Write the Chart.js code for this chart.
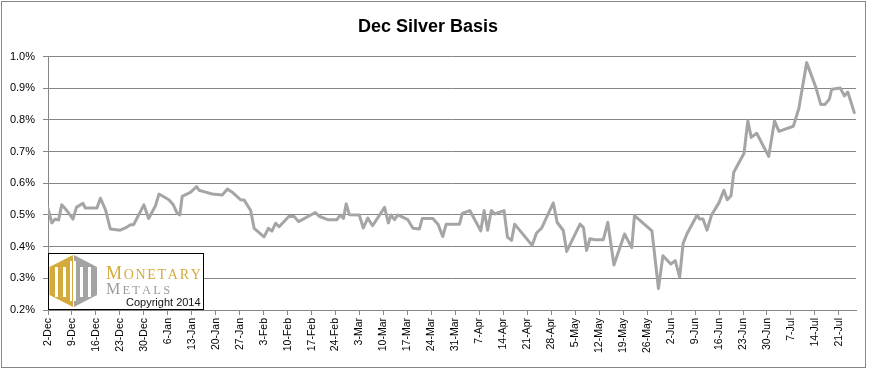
<!DOCTYPE html>
<html>
<head>
<meta charset="utf-8">
<script src="https://cdn.jsdelivr.net/npm/chart.js@4"></script>
<style>
    body { margin: 0; background: #fff; }
    canvas { display: block; }
</style>
</head>
<body>
<canvas id="graphic-silverBasis" width="872" height="370"></canvas>
<script>
// week labels on the x axis (one every 7 days from 2-Dec-2013)
const weekLabels = ['2-Dec', '9-Dec', '16-Dec', '23-Dec', '30-Dec', '6-Jan', '13-Jan', '20-Jan', '27-Jan', '3-Feb', '10-Feb', '17-Feb', '24-Feb', '3-Mar', '10-Mar', '17-Mar', '24-Mar', '31-Mar', '7-Apr', '14-Apr', '21-Apr', '28-Apr', '5-May', '12-May', '19-May', '26-May', '2-Jun', '9-Jun', '16-Jun', '23-Jun', '30-Jun', '7-Jul', '14-Jul', '21-Jul'];

// days since 2-Dec and the basis (%)
const days = [0, 1.1, 2.1, 3.1, 4.0, 5.5, 7.3, 8.3, 10.2, 10.9, 14.3, 15.3, 16.8, 18.2, 21.1, 22.6, 24.1, 25.0, 28.0, 29.4,
    31.4, 32.4, 35.3, 36.6, 37.7, 38.5, 39.2, 41.7, 43.4, 44.1, 46.0, 48.0, 50.9, 52.4, 53.8, 56.3, 57.3, 59.2, 60.2, 63.1,
    64.4, 65.4, 66.5, 67.5, 70.4, 71.9, 73.2, 78.1, 79.2, 81.7, 84.4, 85.4, 86.3, 87.1, 88.0, 90.9, 92.1, 93.4, 94.8, 98.3,
    99.4, 100.2, 101.2, 102.2, 105.1, 106.6, 108.5, 109.3, 112.4, 113.9, 115.3, 116.3, 120.2, 121.0, 123.2, 126.4, 127.4, 128.4, 129.5, 130.5,
    133.2, 134.2, 135.4, 136.3, 141.4, 142.7, 144.2, 147.6, 148.7, 150.5, 151.5, 155.4, 156.4, 157.3, 158.3, 159.8, 162.2, 163.5, 165.3, 168.4,
    170.5, 171.3, 176.4, 178.3, 179.6, 181.9, 183.2, 184.5, 185.5, 186.6, 189.6, 190.3, 191.3, 192.5, 193.8, 196.0, 197.4, 198.4, 199.5, 200.3,
    203.3, 204.4, 205.4, 207.0, 210.5, 212.2, 213.5, 217.7, 219.3, 221.6, 224.3, 225.7, 226.9, 228.2, 228.9, 231.4, 232.6, 233.6, 235.5];
const basis = [0.521, 0.475, 0.487, 0.484, 0.532, 0.514, 0.487, 0.524, 0.537, 0.522, 0.522, 0.553, 0.516, 0.456, 0.452, 0.459, 0.469, 0.469, 0.532, 0.489,
    0.529, 0.566, 0.548, 0.532, 0.506, 0.500, 0.559, 0.572, 0.590, 0.578, 0.572, 0.566, 0.563, 0.582, 0.572, 0.548, 0.547, 0.514, 0.458, 0.431,
    0.458, 0.449, 0.474, 0.463, 0.496, 0.495, 0.479, 0.508, 0.496, 0.485, 0.485, 0.500, 0.489, 0.535, 0.501, 0.500, 0.459, 0.490, 0.466, 0.524,
    0.475, 0.500, 0.485, 0.500, 0.485, 0.458, 0.456, 0.489, 0.489, 0.471, 0.432, 0.471, 0.471, 0.505, 0.514, 0.450, 0.514, 0.452, 0.514, 0.503,
    0.514, 0.430, 0.420, 0.471, 0.404, 0.443, 0.459, 0.538, 0.477, 0.451, 0.385, 0.471, 0.460, 0.388, 0.425, 0.422, 0.422, 0.477, 0.342, 0.440,
    0.397, 0.498, 0.450, 0.268, 0.371, 0.345, 0.356, 0.304, 0.410, 0.440, 0.500, 0.487, 0.487, 0.452, 0.500, 0.539, 0.578, 0.548, 0.561, 0.635,
    0.695, 0.797, 0.745, 0.758, 0.685, 0.797, 0.764, 0.780, 0.836, 0.981, 0.902, 0.849, 0.849, 0.865, 0.897, 0.901, 0.876, 0.888, 0.823];

const gridGrey = '#868686';

// white background + outer frame of the chart
const frame = {
    id: 'frame',
    beforeDraw(chart) {
        const ctx = chart.ctx;
        ctx.save();
        ctx.fillStyle = '#fff';
        ctx.fillRect(0, 0, chart.width, chart.height);
        ctx.strokeStyle = gridGrey;
        ctx.lineWidth = 1;
        ctx.strokeRect(1.5, 1.5, 864, 366);
        ctx.restore();
    }
};

// spaced out capitals, first letter bigger
function spacedWord(ctx, word, x, y, bigSize, smallSize, gap) {
    ctx.font = bigSize + 'px "Liberation Serif"';
    ctx.fillText(word[0], x, y);
    x += ctx.measureText(word[0]).width + gap;
    ctx.font = smallSize + 'px "Liberation Serif"';
    for (const ch of word.slice(1)) {
        ctx.fillText(ch, x, y);
        x += ctx.measureText(ch).width + gap;
    }
}

// Monetary Metals logo box, bottom left of the plot
const logo = {
    id: 'logo',
    afterDraw(chart) {
        const ctx = chart.ctx;
        const left = chart.chartArea.left;
        const top = chart.chartArea.bottom - 57;
        ctx.save();
        ctx.fillStyle = '#fff';
        ctx.fillRect(left, top, 155, 56);
        ctx.strokeStyle = '#000';
        ctx.lineWidth = 1;
        ctx.strokeRect(left + 0.5, top + 0.5, 155, 56);

        // hexagon, gold half and grey half
        const cx = left + 25, cy = top + 28;
        const gold = '#D4AA3C', grey = '#A3A3A3';
        ctx.fillStyle = gold;
        ctx.beginPath();
        ctx.moveTo(cx, cy - 26);
        ctx.lineTo(cx - 23.5, cy - 14);
        ctx.lineTo(cx - 23.5, cy + 14);
        ctx.lineTo(cx, cy + 26);
        ctx.closePath();
        ctx.fill();
        ctx.fillStyle = grey;
        ctx.beginPath();
        ctx.moveTo(cx + 1, cy - 26);
        ctx.lineTo(cx + 24, cy - 14);
        ctx.lineTo(cx + 24, cy + 14);
        ctx.lineTo(cx + 1, cy + 26);
        ctx.closePath();
        ctx.fill();
        // white slots making the columns of the M
        ctx.fillStyle = '#fff';
        [-18, -10, 7, 15].forEach(function (dx) {
            ctx.fillRect(cx + dx, cy - 14, 3, 30);
        });
        ctx.fillRect(cx - 3, cy - 20, 2, 40);
        ctx.fillRect(cx + 1, cy - 20, 2, 40);

        ctx.textBaseline = 'alphabetic';
        ctx.fillStyle = gold;
        spacedWord(ctx, 'MONETARY', left + 58, top + 26, 18, 14, 1.7);
        ctx.fillStyle = '#9C9C9C';
        spacedWord(ctx, 'METALS', left + 58, top + 41, 16, 12.5, 2.2);
        ctx.fillStyle = '#111';
        ctx.font = '11px "Liberation Sans"';
        ctx.fillText('Copyright 2014', left + 78, top + 52.5);
        ctx.restore();
    }
};

const dataGraphicBasis = document.getElementById('graphic-silverBasis');

var chartBasis = new Chart(dataGraphicBasis, {
    type: 'line',
    data: {
        datasets: [
            {
                label: 'Dec Silver Basis',
                data: days.map(function (d, i) { return { x: d, y: basis[i] }; }),
                borderColor: '#A5A5A5',
                borderWidth: 3,
                borderJoinStyle: 'round',
                borderCapStyle: 'round',
                pointRadius: 0,
                tension: 0
            }
        ]
    },
    options: {
        responsive: false,
        maintainAspectRatio: false,
        animation: false,
        layout: {
            padding: { left: 0, right: 16, top: 6, bottom: 5 }
        },
        scales: {
            x: {
                type: 'linear',
                min: 0,
                max: 236,
                afterFit: function (scale) { scale.height = 55; },
                grid: { drawOnChartArea: false, drawTicks: true, tickLength: 5, color: gridGrey },
                border: { display: true, color: gridGrey },
                ticks: {
                    stepSize: 7,
                    includeBounds: false,
                    autoSkip: false,
                    minRotation: 90,
                    maxRotation: 90,
                    padding: 3,
                    color: '#000',
                    font: { family: 'Liberation Sans', size: 10.5 },
                    callback: function (value) {
                        return weekLabels[Math.round(value / 7)];
                    }
                }
            },
            y: {
                min: 0.2,
                max: 1.0,
                afterFit: function (scale) { scale.width = 48; },
                grid: { color: gridGrey, tickLength: 5 },
                border: { display: true, color: gridGrey },
                ticks: {
                    stepSize: 0.1,
                    padding: 8,
                    color: '#000',
                    font: { family: 'Liberation Sans', size: 11 },
                    callback: function (value) {
                        return Number(value).toFixed(1) + '%';
                    }
                }
            }
        },
        plugins: {
            legend: { display: false },
            tooltip: { enabled: false },
            title: {
                display: true,
                text: 'Dec Silver Basis',
                color: '#000',
                font: { family: 'Liberation Sans', size: 18, weight: 'bold' },
                padding: { top: 10, bottom: 19 }
            }
        }
    },
    plugins: [frame, logo]
});
</script>
</body>
</html>
